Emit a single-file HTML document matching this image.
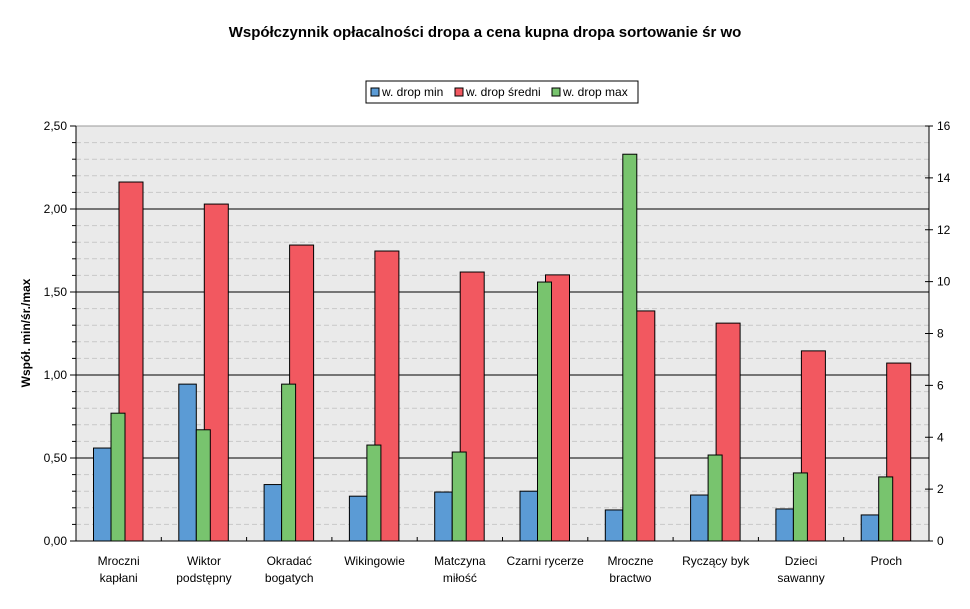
<!DOCTYPE html>
<html><head><meta charset="utf-8"><style>
body{margin:0;background:#fff;font-family:"Liberation Sans",sans-serif}
svg text{font-family:"Liberation Sans",sans-serif}
</style></head><body>
<svg id="c" width="970" height="604">
<text x="485" y="37" text-anchor="middle" font-size="15" font-weight="bold">Współczynnik opłacalności dropa a cena kupna dropa sortowanie śr wo</text>
<g>
<rect x="366" y="81" width="272" height="22" fill="#fff" stroke="#000"/>
<g><rect x="371" y="88" width="8" height="8" fill="#5b9bd5" stroke="#000"/><text x="382" y="96" font-size="12">w. drop min</text></g>
<g><rect x="455" y="88" width="8" height="8" fill="#f25860" stroke="#000"/><text x="466" y="96" font-size="12">w. drop średni</text></g>
<g><rect x="552" y="88" width="8" height="8" fill="#78c46e" stroke="#000"/><text x="563" y="96" font-size="12">w. drop max</text></g>
</g>
<text transform="translate(30,333) rotate(-90)" text-anchor="middle" font-size="12" font-weight="bold">Współ. min/śr./max</text>
<g id="g"></g>
</svg>
<script>
const categories=[["Mroczni","kapłani"],["Wiktor","podstępny"],["Okradać","bogatych"],["Wikingowie"],["Matczyna","miłość"],["Czarni rycerze"],["Mroczne","bractwo"],["Ryczący byk"],["Dzieci","sawanny"],["Proch"]];
const minVals=[0.56,0.945,0.34,0.27,0.295,0.30,0.187,0.277,0.193,0.157];
const maxVals=[0.77,0.67,0.945,0.578,0.536,1.56,2.33,0.518,0.41,0.386];
const avgVals=[13.84,12.99,11.41,11.18,10.37,10.26,8.87,8.40,7.33,6.86];
const leftTicks=["0,00","0,50","1,00","1,50","2,00","2,50"];
const rightTicks=["0","2","4","6","8","10","12","14","16"];
const L=76,R=929,T=126,B=541,cw=(R-L)/categories.length;
const yL=v=>B-v/2.5*(B-T), yR=v=>B-v/16*(B-T);
const g=document.getElementById('g');const NS="http://www.w3.org/2000/svg";
function mk(t,a,p){const e=document.createElementNS(NS,t);for(const k in a)e.setAttribute(k,a[k]);(p||g).appendChild(e);return e;}
let e=mk('rect',{x:L,y:T,width:R-L,height:B-T,fill:'#eaeaea'});


for(let i=1;i<25;i++){if(i%5==0)continue;const y=yL(i*0.1);mk('line',{x1:L,x2:R,y1:y,y2:y,stroke:'#c8c8c8','stroke-dasharray':'5,3'});mk('line',{x1:L-4,x2:L,y1:y,y2:y,stroke:'#000'});}
leftTicks.forEach((t,i)=>{const v=i*0.5,y=yL(v);
 if(i>0)mk('line',{x1:L,x2:R,y1:y,y2:y,stroke:i==5?'#999':'#000'});
 mk('line',{x1:L-6,x2:L,y1:y,y2:y,stroke:'#000'});
 const tx=mk('text',{x:L-9,y:y+4,'text-anchor':'end','font-size':12});tx.textContent=t;
 
 });
rightTicks.forEach((t,i)=>{const y=yR(+t);
 mk('line',{x1:R-4,x2:R+4,y1:y,y2:y,stroke:'#000'});
 const tx=mk('text',{x:R+8,y:y+4,'font-size':12});tx.textContent=t;
 
 });
categories.forEach((c,i)=>{const x0=L+i*cw;
 const bars=[[avgVals[i],'#f25860',43,24,yR,'bar-avg'],[minVals[i],'#5b9bd5',17.5,17.5,yL,'bar-min'],[maxVals[i],'#78c46e',35,14,yL,'bar-max']];
 bars.forEach(b=>{const y=b[4](b[0]);const r=mk('rect',{x:x0+b[2],y:y,width:b[3],height:B-y,fill:b[1],stroke:'#000','stroke-width':1});
  
  });
 if(i>0)mk('line',{x1:x0,x2:x0,y1:B,y2:B-4,stroke:'#000'});
 c.forEach((s,j)=>{const tx=mk('text',{x:x0+cw/2,y:565+j*17,'text-anchor':'middle','font-size':12});tx.textContent=s;
  
  });
});
mk('line',{x1:L,x2:L,y1:T,y2:B,stroke:'#000'});
mk('line',{x1:R,x2:R,y1:T,y2:B,stroke:'#000'});
mk('line',{x1:L,x2:R,y1:B,y2:B,stroke:'#000'});
</script>
</body></html>
